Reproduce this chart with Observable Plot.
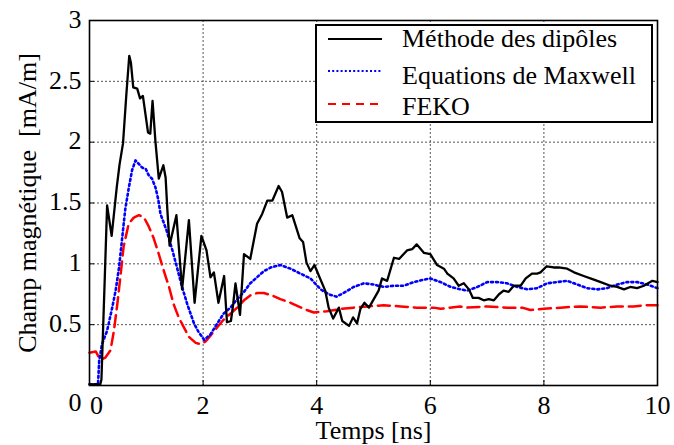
<!DOCTYPE html>
<html>
<head>
<meta charset="utf-8">
<script src="https://cdn.jsdelivr.net/npm/d3@7"></script>
<script src="https://cdn.jsdelivr.net/npm/@observablehq/plot@0.6"></script>
<style>
  html, body { margin: 0; padding: 0; background: white; }
  #wrap { position: relative; width: 674px; height: 445px; font-family: "Liberation Serif", "Times New Roman", "DejaVu Serif", serif; }
  #wrap svg text { font-family: "Liberation Serif", "Times New Roman", "DejaVu Serif", serif; }
  #legend { position: absolute; left: 0; top: 0; }
</style>
</head>
<body>
<div id="wrap"></div>
<script>
// ---- data ----
const seriesNames = ["Méthode des dipôles", "Equations de Maxwell", "FEKO"];
const seriesColors = ["#000000", "#0000ff", "#ff0000"];

const tDipoles = [0, 0.19, 0.21, 0.27, 0.31, 0.39, 0.48, 0.53, 0.59, 0.65, 0.70, 0.73, 0.77, 0.84, 0.89, 0.94, 1.03, 1.07, 1.11, 1.16, 1.22, 1.30, 1.34, 1.37, 1.41, 1.53, 1.63, 1.75, 1.85, 1.97, 2.06, 2.13, 2.19, 2.27, 2.37, 2.42, 2.49, 2.53, 2.57, 2.65, 2.72, 2.83, 2.95, 3.04, 3.13, 3.22, 3.33, 3.39, 3.48, 3.57, 3.70, 3.76, 3.82, 3.89, 3.96, 4.05, 4.15, 4.21, 4.29, 4.39, 4.45, 4.57, 4.64, 4.71, 4.77, 4.84, 4.92, 5.09, 5.15, 5.24, 5.36, 5.45, 5.59, 5.68, 5.76, 5.89, 6.00, 6.12, 6.24, 6.30, 6.41, 6.50, 6.59, 6.68, 6.75, 6.85, 6.94, 7.03, 7.12, 7.21, 7.29, 7.38, 7.47, 7.59, 7.68, 7.79, 7.88, 7.94, 8.05, 8.17, 8.26, 8.41, 8.53, 8.70, 8.88, 9.00, 9.17, 9.29, 9.41, 9.52, 9.64, 9.76, 9.91, 10.0];
const vDipoles = [0.01, 0.01, 0.05, 0.9, 1.48, 1.23, 1.63, 1.82, 1.99, 2.40, 2.71, 2.65, 2.45, 2.44, 2.36, 2.38, 2.08, 2.07, 2.34, 2.01, 1.70, 1.81, 1.71, 1.45, 1.15, 1.40, 0.79, 1.36, 0.68, 1.23, 1.11, 0.89, 0.93, 0.68, 0.90, 0.52, 0.53, 0.67, 0.84, 0.58, 1.08, 1.04, 1.33, 1.41, 1.52, 1.52, 1.64, 1.59, 1.38, 1.40, 1.21, 1.18, 1.01, 0.94, 0.99, 0.89, 0.78, 0.64, 0.55, 0.64, 0.53, 0.49, 0.56, 0.51, 0.63, 0.68, 0.64, 0.78, 0.88, 0.86, 1.05, 1.04, 1.11, 1.12, 1.16, 1.09, 1.08, 0.99, 0.96, 0.92, 0.88, 0.82, 0.84, 0.79, 0.72, 0.72, 0.70, 0.71, 0.70, 0.75, 0.78, 0.77, 0.82, 0.82, 0.88, 0.92, 0.92, 0.93, 0.98, 0.97, 0.97, 0.96, 0.93, 0.90, 0.87, 0.85, 0.82, 0.81, 0.79, 0.81, 0.80, 0.82, 0.86, 0.85];

const tMaxwell = [0, 0.15, 0.17, 0.22, 0.31, 0.40, 0.46, 0.52, 0.57, 0.63, 0.69, 0.75, 0.81, 0.87, 0.93, 0.99, 1.04, 1.10, 1.16, 1.21, 1.25, 1.36, 1.46, 1.54, 1.63, 1.72, 1.84, 1.92, 2.02, 2.13, 2.25, 2.36, 2.48, 2.60, 2.72, 2.83, 2.95, 3.07, 3.19, 3.36, 3.54, 3.71, 3.89, 4.07, 4.21, 4.35, 4.51, 4.65, 4.83, 5.00, 5.18, 5.36, 5.53, 5.71, 5.89, 6.00, 6.18, 6.36, 6.53, 6.65, 6.83, 7.00, 7.18, 7.35, 7.53, 7.71, 7.88, 8.06, 8.23, 8.41, 8.59, 8.76, 8.94, 9.11, 9.29, 9.46, 9.64, 9.82, 10.0];
const vMaxwell = [0.01, 0.01, 0.20, 0.34, 0.45, 0.64, 0.78, 0.97, 1.19, 1.45, 1.62, 1.77, 1.85, 1.82, 1.79, 1.78, 1.73, 1.70, 1.63, 1.53, 1.41, 1.27, 1.11, 0.97, 0.81, 0.67, 0.51, 0.44, 0.375, 0.42, 0.51, 0.59, 0.64, 0.71, 0.77, 0.84, 0.89, 0.94, 0.97, 0.99, 0.96, 0.92, 0.88, 0.79, 0.75, 0.73, 0.77, 0.81, 0.84, 0.83, 0.81, 0.82, 0.82, 0.85, 0.87, 0.88, 0.85, 0.81, 0.79, 0.78, 0.81, 0.85, 0.85, 0.84, 0.81, 0.79, 0.80, 0.84, 0.85, 0.86, 0.83, 0.80, 0.79, 0.80, 0.83, 0.85, 0.85, 0.83, 0.80];

const tFeko = [0, 0.11, 0.19, 0.28, 0.37, 0.43, 0.49, 0.55, 0.60, 0.69, 0.78, 0.87, 0.96, 1.04, 1.13, 1.22, 1.31, 1.40, 1.48, 1.57, 1.66, 1.75, 1.87, 1.95, 2.04, 2.13, 2.25, 2.36, 2.48, 2.60, 2.72, 2.83, 2.95, 3.07, 3.22, 3.36, 3.54, 3.77, 3.95, 4.18, 4.42, 4.65, 4.89, 5.18, 5.48, 5.77, 6.06, 6.18, 6.52, 6.65, 7.00, 7.35, 7.62, 7.76, 8.00, 8.29, 8.64, 9.00, 9.29, 9.58, 9.82, 10.0];
const vFeko = [0.27, 0.28, 0.21, 0.23, 0.29, 0.45, 0.67, 0.92, 1.14, 1.33, 1.38, 1.40, 1.38, 1.31, 1.21, 1.08, 0.94, 0.81, 0.67, 0.56, 0.48, 0.40, 0.35, 0.34, 0.36, 0.41, 0.48, 0.54, 0.59, 0.64, 0.70, 0.74, 0.76, 0.76, 0.74, 0.71, 0.68, 0.63, 0.60, 0.61, 0.63, 0.64, 0.65, 0.66, 0.65, 0.64, 0.64, 0.63, 0.65, 0.64, 0.65, 0.64, 0.64, 0.62, 0.63, 0.64, 0.65, 0.64, 0.65, 0.65, 0.66, 0.66];

const xTicks = [0, 2, 4, 6, 8, 10];
const yTicks = [0, 0.5, 1, 1.5, 2, 2.5, 3];
const xLabel = "Temps [ns]";
const yLabel = "Champ magnétique\u00a0 [mA/m]";

// ---- build ----
const toRows = (t, v) => t.map((d, i) => ({t: d, v: v[i]}));
const dip = toRows(tDipoles, vDipoles);
const max = toRows(tMaxwell, vMaxwell);
const fek = toRows(tFeko, vFeko);

const font = '"Liberation Serif", "Times New Roman", "DejaVu Serif", serif';
const fs = 26;
const fmt = d => String(d);
const empty = () => "";
const innerX = xTicks.filter(d => d !== xTicks[0] && d !== xTicks[xTicks.length - 1]);
const innerY = yTicks.filter(d => d !== yTicks[0] && d !== yTicks[yTicks.length - 1]);

const chart = Plot.plot({
  width: 674,
  height: 445,
  marginLeft: 89,
  marginRight: 17,
  marginTop: 20,
  marginBottom: 60,
  x: {domain: [0, 10]},
  y: {domain: [0, 3]},
  style: {fontFamily: font, fontSize: fs + "px", color: "black", background: "white", overflow: "visible"},
  marks: [
    Plot.gridX(innerX, {stroke: "#555", strokeOpacity: 1, strokeWidth: 1, strokeDasharray: "2,2"}),
    Plot.gridY(innerY, {stroke: "#555", strokeOpacity: 1, strokeWidth: 1, strokeDasharray: "2,2"}),
    Plot.line(fek, {x: "t", y: "v", stroke: seriesColors[2], strokeWidth: 2.5, strokeDasharray: "12,6"}),
    Plot.line(max, {x: "t", y: "v", stroke: seriesColors[1], strokeWidth: 2.6, strokeDasharray: "2,3"}),
    Plot.line(dip, {x: "t", y: "v", stroke: seriesColors[0], strokeWidth: 2.3, strokeLinejoin: "round"}),
    Plot.frame({stroke: "black", strokeWidth: 1.6}),
    Plot.axisX(xTicks, {tickSize: -5, tickPadding: 0, tickFormat: empty, label: null}),
    Plot.axisY(yTicks, {tickSize: -5, tickPadding: 0, tickFormat: empty, label: null}),
    // tick labels
    Plot.text(xTicks.slice(1), {x: d => d, text: fmt, frameAnchor: "bottom", dy: 20, lineAnchor: "middle", textAnchor: "middle", fontSize: fs, fontFamily: font}),
    Plot.text(xTicks.slice(0, 1), {x: d => d, text: fmt, frameAnchor: "bottom", dx: 7, dy: 20, lineAnchor: "middle", textAnchor: "middle", fontSize: fs, fontFamily: font}),
    Plot.text(yTicks.slice(1), {y: d => d, text: fmt, frameAnchor: "left", dx: -8, dy: -1, lineAnchor: "middle", textAnchor: "end", fontSize: fs, fontFamily: font}),
    Plot.text(yTicks.slice(0, 1), {y: d => d, text: fmt, frameAnchor: "left", dx: -8, dy: 17, lineAnchor: "middle", textAnchor: "end", fontSize: fs, fontFamily: font}),
    // axis titles
    Plot.text([xLabel], {frameAnchor: "bottom", dy: 45, lineAnchor: "middle", textAnchor: "middle", fontSize: fs, fontFamily: font}),
    Plot.text([yLabel], {frameAnchor: "left", dx: -62, rotate: -90, lineAnchor: "middle", textAnchor: "middle", fontSize: fs, fontFamily: font})
  ]
});

const wrap = document.getElementById("wrap");
wrap.appendChild(chart);

// ---- legend (inside the plot area, top right) ----
const lg = d3.select(wrap).append("svg")
  .attr("id", "legend")
  .attr("width", 674).attr("height", 445)
  .style("pointer-events", "none");
const box = {x: 316, y: 25, w: 336, h: 97};
lg.append("rect")
  .attr("x", box.x).attr("y", box.y).attr("width", box.w).attr("height", box.h)
  .attr("fill", "white").attr("stroke", "black").attr("stroke-width", 2);
const rowSample = [39, 71, 104];
const rowBase = [47, 84, 115];
const dashes = [null, "2,2.2", "8,6"];
seriesNames.forEach((name, i) => {
  lg.append("line")
    .attr("x1", 328).attr("x2", 382).attr("y1", rowSample[i]).attr("y2", rowSample[i])
    .attr("stroke", seriesColors[i]).attr("stroke-width", i === 0 ? 2 : 2.2)
    .attr("stroke-dasharray", dashes[i]);
  lg.append("text")
    .attr("x", 402).attr("y", rowBase[i])
    .style("font-family", font).style("font-size", fs + "px")
    .attr("fill", "black")
    .text(name);
});
</script>
</body>
</html>
